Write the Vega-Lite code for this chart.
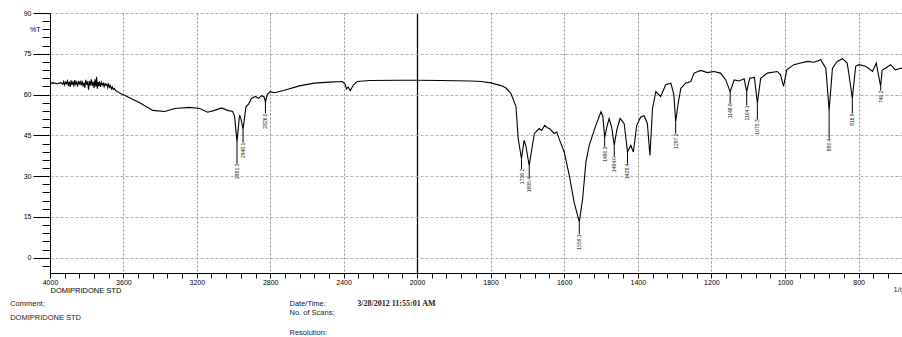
{
  "$schema": "https://vega.github.io/schema/vega-lite/v6.json",
  "autosize": "none",
  "padding": {"left": 50, "top": 13, "right": 0, "bottom": 64},
  "width": 852,
  "height": 260,
  "background": "white",
  "config": {
    "view": {"stroke": null},
    "font": "Liberation Sans",
    "axis": {"labelFont": "Liberation Sans", "labelColor": "black", "domainColor": "black", "tickColor": "black", "labelFontSize": 7}
  },
  "datasets": {
    "spectrum": [
      {"w": 4000, "t": 64.2}, {"w": 3980, "t": 64.3}, {"w": 3960, "t": 64.0}, {"w": 3940, "t": 64.4},
      {"w": 3930, "t": 63.8}, {"w": 3925, "t": 64.8}, {"w": 3920, "t": 63.5}, {"w": 3915, "t": 64.6},
      {"w": 3910, "t": 64.0}, {"w": 3905, "t": 65.0}, {"w": 3900, "t": 63.2}, {"w": 3895, "t": 64.8},
      {"w": 3890, "t": 62.8}, {"w": 3885, "t": 65.2}, {"w": 3880, "t": 63.6}, {"w": 3875, "t": 64.9},
      {"w": 3870, "t": 63.0}, {"w": 3865, "t": 65.3}, {"w": 3860, "t": 63.8}, {"w": 3855, "t": 64.6},
      {"w": 3850, "t": 62.9}, {"w": 3845, "t": 65.0}, {"w": 3840, "t": 63.9}, {"w": 3835, "t": 64.7},
      {"w": 3830, "t": 63.4}, {"w": 3825, "t": 65.1}, {"w": 3820, "t": 63.0}, {"w": 3815, "t": 64.4},
      {"w": 3810, "t": 62.5}, {"w": 3805, "t": 65.4}, {"w": 3800, "t": 63.6}, {"w": 3795, "t": 64.9},
      {"w": 3790, "t": 61.8}, {"w": 3785, "t": 65.0}, {"w": 3780, "t": 63.4}, {"w": 3775, "t": 65.6},
      {"w": 3770, "t": 63.2}, {"w": 3765, "t": 64.8}, {"w": 3760, "t": 62.4}, {"w": 3755, "t": 65.6},
      {"w": 3750, "t": 63.0}, {"w": 3746, "t": 66.5}, {"w": 3742, "t": 62.2}, {"w": 3738, "t": 64.6},
      {"w": 3734, "t": 63.1}, {"w": 3730, "t": 64.9}, {"w": 3725, "t": 62.8}, {"w": 3720, "t": 64.5},
      {"w": 3715, "t": 63.5}, {"w": 3710, "t": 64.2}, {"w": 3705, "t": 62.9}, {"w": 3700, "t": 64.0},
      {"w": 3695, "t": 63.4}, {"w": 3690, "t": 63.9}, {"w": 3685, "t": 62.6}, {"w": 3680, "t": 63.8},
      {"w": 3675, "t": 62.7}, {"w": 3670, "t": 63.3}, {"w": 3665, "t": 62.1}, {"w": 3660, "t": 62.8},
      {"w": 3655, "t": 61.9}, {"w": 3650, "t": 62.3}, {"w": 3640, "t": 61.4}, {"w": 3630, "t": 61.0},
      {"w": 3620, "t": 60.6}, {"w": 3610, "t": 60.2}, {"w": 3600, "t": 59.9}, {"w": 3511, "t": 57.0},
      {"w": 3440, "t": 54.2}, {"w": 3375, "t": 53.8}, {"w": 3320, "t": 54.9}, {"w": 3239, "t": 55.3},
      {"w": 3184, "t": 54.9}, {"w": 3141, "t": 53.5}, {"w": 3103, "t": 54.2}, {"w": 3065, "t": 55.1},
      {"w": 3032, "t": 54.2}, {"w": 3005, "t": 53.8}, {"w": 2994, "t": 52.0}, {"w": 2981, "t": 42.7},
      {"w": 2967, "t": 52.5}, {"w": 2959, "t": 51.0}, {"w": 2948, "t": 47.3}, {"w": 2932, "t": 55.5},
      {"w": 2918, "t": 56.5}, {"w": 2902, "t": 58.6}, {"w": 2880, "t": 59.3}, {"w": 2864, "t": 58.6},
      {"w": 2847, "t": 59.6}, {"w": 2834, "t": 59.2}, {"w": 2826, "t": 57.4}, {"w": 2815, "t": 60.2},
      {"w": 2800, "t": 61.1}, {"w": 2777, "t": 60.7}, {"w": 2722, "t": 61.6}, {"w": 2641, "t": 63.2},
      {"w": 2559, "t": 64.2}, {"w": 2478, "t": 64.6}, {"w": 2407, "t": 64.8}, {"w": 2391, "t": 63.8},
      {"w": 2385, "t": 62.0}, {"w": 2375, "t": 62.8}, {"w": 2364, "t": 61.4}, {"w": 2347, "t": 63.5},
      {"w": 2325, "t": 64.8}, {"w": 2260, "t": 65.2}, {"w": 2097, "t": 65.3}, {"w": 2000, "t": 65.3},
      {"w": 1935, "t": 65.2}, {"w": 1853, "t": 65.0}, {"w": 1826, "t": 64.8}, {"w": 1799, "t": 64.3},
      {"w": 1772, "t": 63.3}, {"w": 1759, "t": 62.5}, {"w": 1745, "t": 60.5}, {"w": 1731, "t": 55.6},
      {"w": 1725, "t": 43.8}, {"w": 1716, "t": 36.4}, {"w": 1709, "t": 43.2}, {"w": 1704, "t": 41.0},
      {"w": 1695, "t": 33.9}, {"w": 1688, "t": 40.0}, {"w": 1681, "t": 45.7}, {"w": 1668, "t": 47.5},
      {"w": 1661, "t": 46.8}, {"w": 1653, "t": 48.7}, {"w": 1646, "t": 47.8}, {"w": 1640, "t": 47.5},
      {"w": 1627, "t": 45.7}, {"w": 1620, "t": 46.2}, {"w": 1614, "t": 43.8}, {"w": 1600, "t": 38.9},
      {"w": 1586, "t": 30.2}, {"w": 1573, "t": 20.4}, {"w": 1559, "t": 13.2}, {"w": 1550, "t": 21.6},
      {"w": 1541, "t": 35.2}, {"w": 1532, "t": 41.3}, {"w": 1514, "t": 48.7}, {"w": 1500, "t": 53.7},
      {"w": 1495, "t": 52.0}, {"w": 1490, "t": 44.4}, {"w": 1484, "t": 48.0}, {"w": 1478, "t": 51.2},
      {"w": 1471, "t": 48.0}, {"w": 1464, "t": 41.3}, {"w": 1457, "t": 47.0}, {"w": 1448, "t": 51.2},
      {"w": 1437, "t": 49.3}, {"w": 1428, "t": 38.9}, {"w": 1419, "t": 41.3}, {"w": 1412, "t": 38.9},
      {"w": 1403, "t": 48.7}, {"w": 1392, "t": 51.8}, {"w": 1383, "t": 52.2}, {"w": 1374, "t": 49.4},
      {"w": 1367, "t": 37.6}, {"w": 1360, "t": 54.9}, {"w": 1351, "t": 61.1}, {"w": 1338, "t": 59.3},
      {"w": 1324, "t": 63.6}, {"w": 1310, "t": 64.2}, {"w": 1302, "t": 60.0}, {"w": 1297, "t": 50.0},
      {"w": 1290, "t": 57.0}, {"w": 1283, "t": 62.3}, {"w": 1270, "t": 64.2}, {"w": 1256, "t": 64.8},
      {"w": 1247, "t": 67.9}, {"w": 1229, "t": 68.9}, {"w": 1211, "t": 68.1}, {"w": 1193, "t": 68.5},
      {"w": 1175, "t": 67.9}, {"w": 1161, "t": 65.4}, {"w": 1149, "t": 61.1}, {"w": 1138, "t": 65.4},
      {"w": 1125, "t": 65.0}, {"w": 1111, "t": 65.8}, {"w": 1104, "t": 61.1}, {"w": 1096, "t": 66.0},
      {"w": 1083, "t": 66.3}, {"w": 1075, "t": 56.8}, {"w": 1066, "t": 66.0}, {"w": 1048, "t": 67.9},
      {"w": 1021, "t": 68.5}, {"w": 1012, "t": 67.3}, {"w": 1004, "t": 63.0}, {"w": 995, "t": 69.1},
      {"w": 976, "t": 71.0}, {"w": 957, "t": 71.6}, {"w": 939, "t": 72.2}, {"w": 921, "t": 71.9},
      {"w": 903, "t": 72.8}, {"w": 889, "t": 69.7}, {"w": 880, "t": 54.3}, {"w": 871, "t": 69.7},
      {"w": 858, "t": 72.2}, {"w": 844, "t": 73.2}, {"w": 831, "t": 71.6}, {"w": 826, "t": 67.3},
      {"w": 817, "t": 58.6}, {"w": 808, "t": 70.4}, {"w": 799, "t": 71.0}, {"w": 781, "t": 70.4},
      {"w": 762, "t": 68.5}, {"w": 752, "t": 71.6}, {"w": 740, "t": 63.0}, {"w": 736, "t": 69.0},
      {"w": 727, "t": 69.7}, {"w": 713, "t": 71.0}, {"w": 700, "t": 69.1}, {"w": 682, "t": 69.8}
    ],
    "peaks": [
      {"w": 2981, "t": 42.7, "l": 34.6, "label": "2981.3"},
      {"w": 2948, "t": 47.3, "l": 42.3, "label": "2948.1"},
      {"w": 2826, "t": 57.4, "l": 53.1, "label": "2826.0"},
      {"w": 1716, "t": 36.4, "l": 32.7, "label": "1716.2"},
      {"w": 1695, "t": 33.9, "l": 29.7, "label": "1695.4"},
      {"w": 1559, "t": 13.2, "l": 8.6, "label": "1559.1"},
      {"w": 1490, "t": 44.4, "l": 40.9, "label": "1490.3"},
      {"w": 1464, "t": 41.3, "l": 37.1, "label": "1464.0"},
      {"w": 1428, "t": 38.9, "l": 34.6, "label": "1428.4"},
      {"w": 1297, "t": 50.0, "l": 45.7, "label": "1297.2"},
      {"w": 1149, "t": 61.1, "l": 56.8, "label": "1148.6"},
      {"w": 1104, "t": 61.1, "l": 56.0, "label": "1104.1"},
      {"w": 1075, "t": 56.8, "l": 50.9, "label": "1075.3"},
      {"w": 880, "t": 54.3, "l": 43.8, "label": "880.4"},
      {"w": 817, "t": 58.6, "l": 53.1, "label": "816.9"},
      {"w": 740, "t": 63.0, "l": 61.5, "label": "740.2"}
    ],
    "notes": [
      {"w": 4217, "t": -16.9, "text": "Comment;"},
      {"w": 4217, "t": -22.1, "text": "DOMIPRIDONE STD"},
      {"w": 2695, "t": -16.9, "text": "Date/Time:"},
      {"w": 2695, "t": -20.3, "text": "No. of Scans;"},
      {"w": 2695, "t": -27.7, "text": "Resolution:"},
      {"w": 705, "t": -11.8, "text": "1/cm"}
    ],
    "stamp": [
      {"w": 2325, "t": -16.9, "text": "3/28/2012 11:55:01 AM"}
    ]
  },
  "layer": [
    {
      "data": {"name": "spectrum"},
      "mark": {"type": "line", "color": "black", "strokeWidth": 1.1, "interpolate": "linear"},
      "encoding": {
        "x": {
          "field": "w", "type": "quantitative",
          "scale": {"domain": [4000, 2000, 682], "range": [0, 367, 852], "nice": false, "zero": false},
          "axis": {
            "values": [4000,3920,3840,3760,3680,3600,3520,3440,3360,3280,3200,3120,3040,2960,2880,2800,2720,2640,2560,2480,2400,2320,2240,2160,2080,2000,1960,1920,1880,1840,1800,1760,1720,1680,1640,1600,1560,1520,1480,1440,1400,1360,1320,1280,1240,1200,1160,1120,1080,1040,1000,960,920,880,840,800,760,720],
            "tickCount": 500,
            "labelExpr": "indexof([4000,3600,3200,2800,2400,2000,1800,1600,1400,1200,1000,800], datum.value) >= 0 ? datum.label : ''",
            "format": "d",
            "tickSize": 5,
            "labelPadding": 0,
            "labelFlush": false,
            "labelOverlap": false,
            "grid": true,
            "gridOpacity": {"condition": {"test": "indexof([3600,3200,2800,2400,2000,1800,1600,1400,1200,1000,800], datum.value) >= 0", "value": 1}, "value": 0},
            "gridColor": {"condition": {"test": "datum.value == 2000", "value": "black"}, "value": "#8a8a8a"},
            "gridDash": {"condition": {"test": "datum.value == 2000", "value": []}, "value": [2, 2]},
            "gridWidth": {"condition": {"test": "datum.value == 2000", "value": 1.3}, "value": 1},
            "title": "DOMIPRIDONE STD",
            "titleFont": "Liberation Sans",
            "titleFontSize": 7.5,
            "titleFontWeight": "normal",
            "titleColor": "black",
            "titleAnchor": "start",
            "titleAlign": "left",
            "titleBaseline": "middle",
            "titleX": 0,
            "titleY": 17.5
          }
        },
        "y": {
          "field": "t", "type": "quantitative",
          "scale": {"domain": [-5.6, 90], "nice": false, "zero": false},
          "axis": {
            "values": [-3,0,3,6,9,12,15,18,21,24,27,30,33,36,39,42,45,48,51,54,57,60,63,66,69,72,75,78,81,84,87,90],
            "tickCount": 500,
            "format": "d",
            "labelExpr": "datum.value == 84 ? '%T' : (datum.value % 15 == 0 ? datum.label : '')",
            "tickSize": {"condition": {"test": "datum.value % 15 == 0", "value": 17}, "value": 8},
            "labelPadding": 2,
            "labelOverlap": false,
            "labelFlush": false,
            "grid": true,
            "gridOpacity": {"condition": {"test": "datum.value % 15 == 0", "value": 1}, "value": 0},
            "gridColor": "#b0b0b0",
            "gridDash": [3, 2],
            "title": null
          }
        }
      }
    },
    {
      "data": {"name": "peaks"},
      "mark": {"type": "rule", "color": "black", "strokeWidth": 1},
      "encoding": {
        "x": {"field": "w", "type": "quantitative"},
        "y": {"field": "t", "type": "quantitative"},
        "y2": {"field": "l"}
      }
    },
    {
      "data": {"name": "peaks"},
      "mark": {"type": "text", "angle": 270, "align": "right", "baseline": "middle", "fontSize": 5, "font": "Liberation Sans", "color": "#222"},
      "encoding": {
        "x": {"field": "w", "type": "quantitative"},
        "y": {"field": "l", "type": "quantitative"},
        "text": {"field": "label"}
      }
    },
    {
      "data": {"name": "notes"},
      "mark": {"type": "text", "align": "left", "baseline": "middle", "fontSize": 7.5, "font": "Liberation Sans", "color": "#222"},
      "encoding": {
        "x": {"field": "w", "type": "quantitative"},
        "y": {"field": "t", "type": "quantitative"},
        "text": {"field": "text"}
      }
    },
    {
      "data": {"name": "stamp"},
      "mark": {"type": "text", "align": "left", "baseline": "middle", "fontSize": 8, "font": "Liberation Serif", "fontWeight": "bold", "color": "#222"},
      "encoding": {
        "x": {"field": "w", "type": "quantitative"},
        "y": {"field": "t", "type": "quantitative"},
        "text": {"field": "text"}
      }
    }
  ]
}
